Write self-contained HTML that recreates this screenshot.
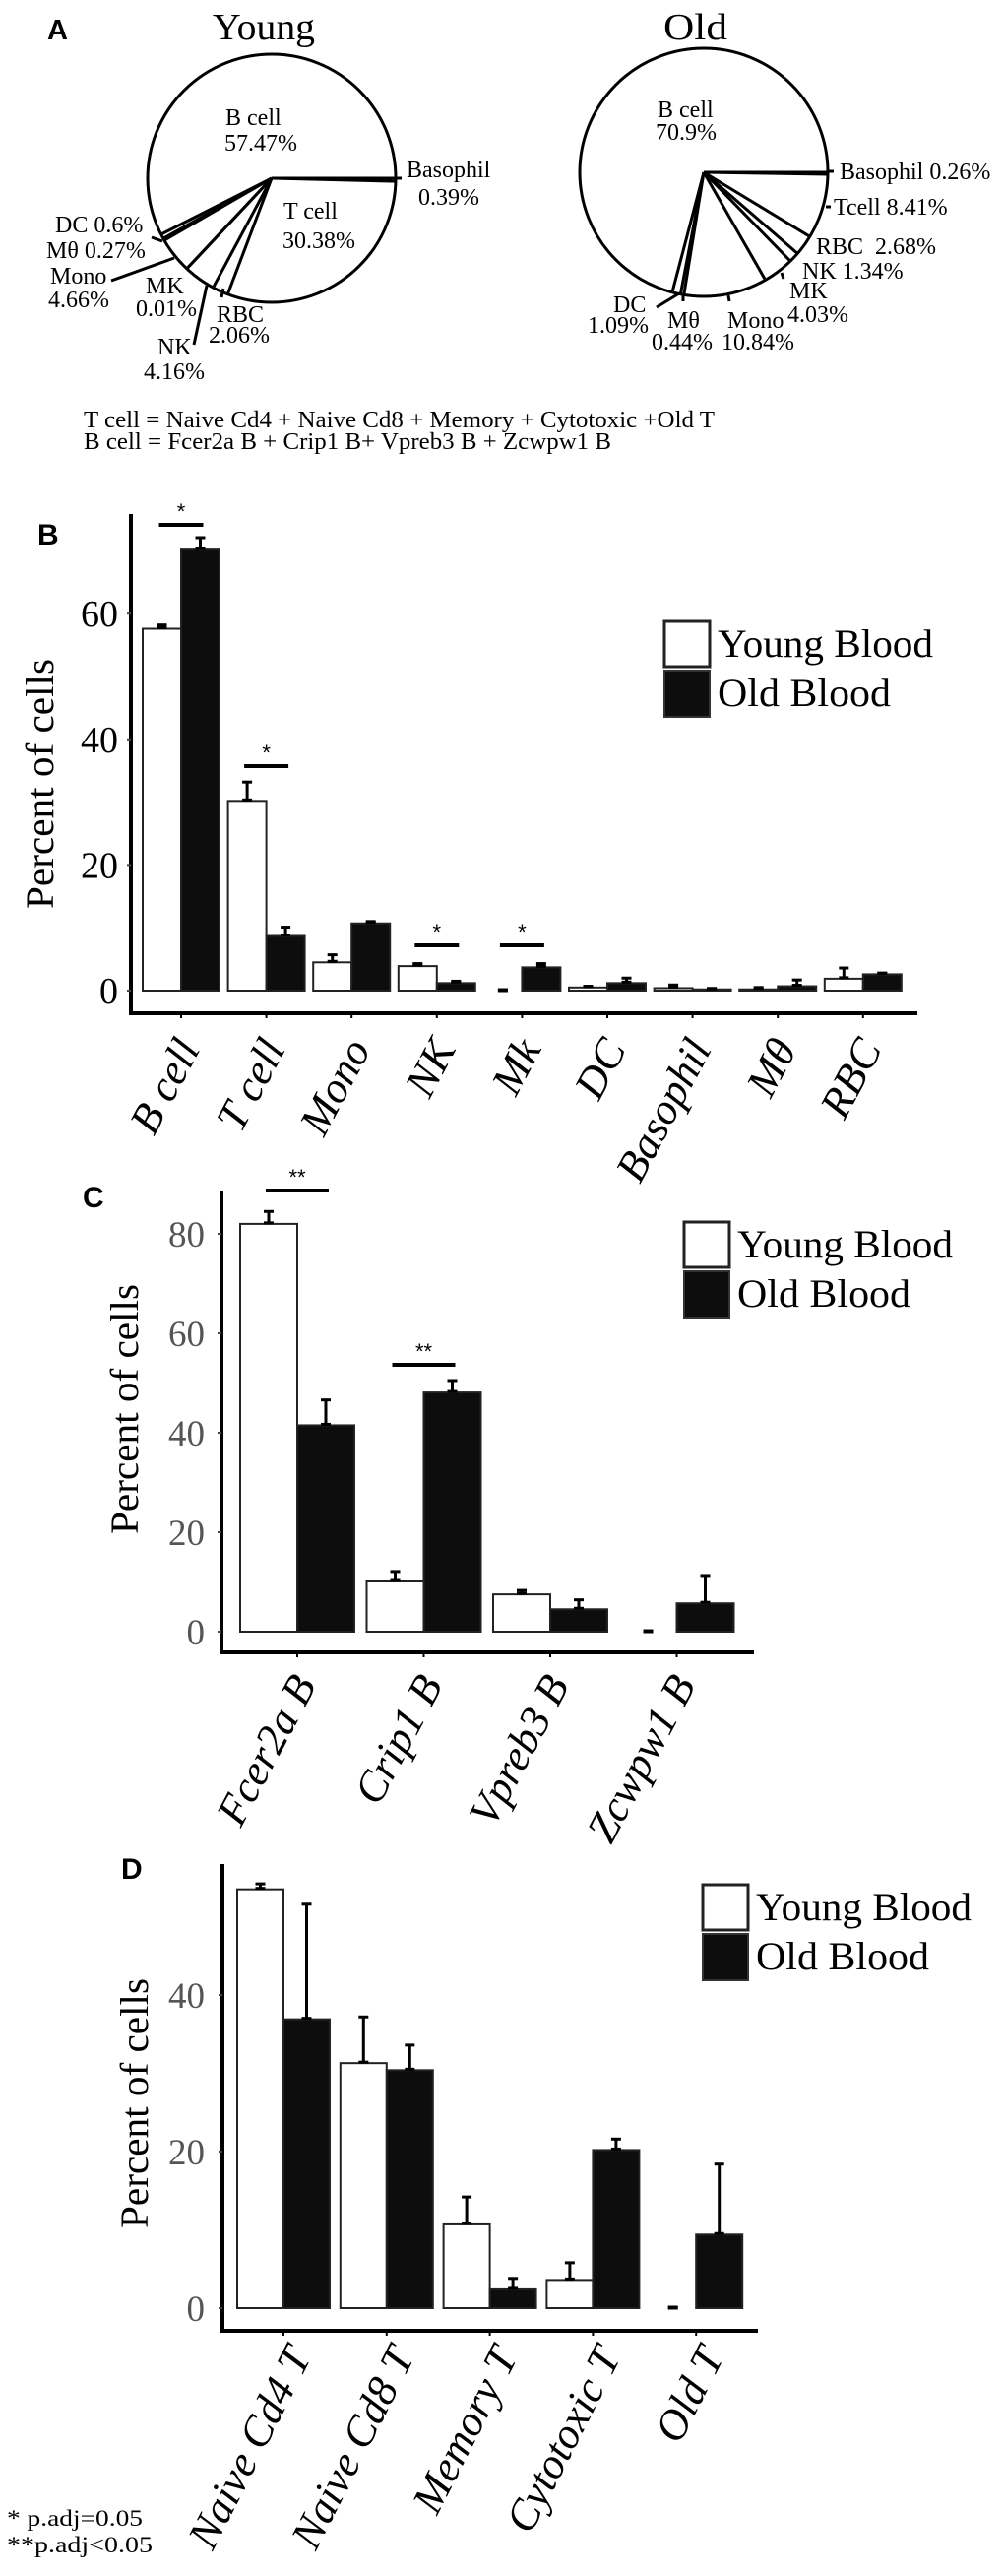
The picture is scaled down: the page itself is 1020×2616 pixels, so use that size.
<!DOCTYPE html>
<html><head><meta charset="utf-8"><style>
html,body{margin:0;padding:0;background:#fff;}
svg{display:block;}
.serif{font-family:"Liberation Serif",serif;}
.sans{font-family:"Liberation Sans",sans-serif;}
</style></head><body>
<svg id="fig" width="1020" height="2616" viewBox="0 0 1020 2616" xmlns="http://www.w3.org/2000/svg">
<rect x="0" y="0" width="1020" height="2616" fill="#fff"/>
<g id="panelA">
  <g id="pieLayer"></g>
  <text class="sans" x="48" y="40" font-size="29" font-weight="bold">A</text>
  <text class="serif" x="216" y="40" font-size="38" textLength="104" lengthAdjust="spacingAndGlyphs">Young</text>
  <text class="serif" x="674" y="40" font-size="38" textLength="65" lengthAdjust="spacingAndGlyphs">Old</text>
  <g class="serif" font-size="24">
    <text x="229" y="127">B cell</text>
    <text x="228" y="153">57.47%</text>
    <text x="413" y="180">Basophil</text>
    <text x="425" y="208">0.39%</text>
    <text x="288" y="222">T cell</text>
    <text x="287" y="252">30.38%</text>
    <text x="56" y="236">DC 0.6%</text>
    <text x="47" y="262">Mθ 0.27%</text>
    <text x="51" y="288">Mono</text>
    <text x="49" y="312">4.66%</text>
    <text x="148" y="298">MK</text>
    <text x="138" y="321">0.01%</text>
    <text x="220" y="327">RBC</text>
    <text x="212" y="348">2.06%</text>
    <text x="160" y="360">NK</text>
    <text x="146" y="385">4.16%</text>
  </g>
  <g stroke="#000" stroke-width="3">
    <line x1="113" y1="285" x2="177" y2="262"/>
    <line x1="197" y1="350" x2="210" y2="290"/>
    <line x1="225" y1="302" x2="227" y2="293"/>
    <line x1="154" y1="241" x2="165" y2="245"/>
    <line x1="402" y1="181" x2="408" y2="181"/>
  </g>
  <g class="serif" font-size="24">
    <text x="668" y="119">B cell</text>
    <text x="666" y="142">70.9%</text>
    <text x="853" y="182">Basophil 0.26%</text>
    <text x="847" y="218">Tcell 8.41%</text>
    <text x="829" y="258" xml:space="preserve">RBC  2.68%</text>
    <text x="815" y="283">NK 1.34%</text>
    <text x="802" y="303">MK</text>
    <text x="800" y="327">4.03%</text>
    <text x="739" y="333">Mono</text>
    <text x="733" y="355">10.84%</text>
    <text x="678" y="333">Mθ</text>
    <text x="662" y="355">0.44%</text>
    <text x="623" y="317">DC</text>
    <text x="597" y="338">1.09%</text>
  </g>
  <g stroke="#000" stroke-width="3">
    <line x1="841" y1="174" x2="847" y2="174"/>
    <line x1="839" y1="210" x2="844" y2="210"/>
    <line x1="667" y1="312" x2="690" y2="298"/>
    <line x1="694" y1="300" x2="694" y2="306"/>
    <line x1="740" y1="300" x2="741" y2="306"/>
    <line x1="794" y1="277" x2="796" y2="283"/>
  </g>
  <text class="serif" x="85" y="434" font-size="24" textLength="641" lengthAdjust="spacingAndGlyphs">T cell = Naive Cd4 + Naive Cd8 + Memory + Cytotoxic +Old T</text>
  <text class="serif" x="85" y="456" font-size="24" textLength="536" lengthAdjust="spacingAndGlyphs">B cell = Fcer2a B + Crip1 B+ Vpreb3 B + Zcwpw1 B</text>
</g>
<text class="serif" x="7" y="2565" font-size="23" textLength="138" lengthAdjust="spacingAndGlyphs">* p.adj=0.05</text>
<text class="serif" x="7" y="2592" font-size="23" textLength="148" lengthAdjust="spacingAndGlyphs">**p.adj&lt;0.05</text>
</svg>
<script>
// ---------- Pie data ----------
const pieSlices = ["B cell","DC","Mθ","Mono","MK","NK","RBC","T cell","Basophil"];
const youngPiePct = [57.47,0.6,0.27,4.66,0.01,4.16,2.06,30.38,0.39];
const oldPiePct = [70.9,1.09,0.44,10.84,4.03,1.34,2.68,8.41,0.26];

// ---------- Panel B data ----------
const catsB = ["B cell","T cell","Mono","NK","Mk","DC","Basophil","Mθ","RBC"];
const youngB = [57.6,30.2,4.5,3.9,0,0.5,0.4,0.2,1.9];
const youngErrB = [58.2,33.2,5.7,4.3,0,0.7,0.9,0.5,3.6];
const oldB = [70.2,8.7,10.7,1.2,3.7,1.2,0.2,0.7,2.6];
const oldErrB = [72.1,10.1,11.0,1.5,4.3,2.0,0.3,1.7,2.8];
const ticksB = [0,20,40,60];

// ---------- Panel C data ----------
const catsC = ["Fcer2a B","Crip1 B","Vpreb3 B","Zcwpw1 B"];
const youngC = [82.0,10.1,7.5,0];
const youngErrC = [84.5,12.1,8.3,0];
const oldC = [41.5,48.1,4.5,5.7];
const oldErrC = [46.6,50.5,6.4,11.3];
const ticksC = [0,20,40,60,80];

// ---------- Panel D data ----------
const catsD = ["Naive Cd4 T","Naive Cd8 T","Memory T","Cytotoxic T","Old T"];
const youngD = [53.5,31.3,10.7,3.6,0];
const youngErrD = [54.2,37.2,14.2,5.8,0];
const oldD = [36.9,30.4,2.4,20.2,9.4];
const oldErrD = [51.6,33.6,3.8,21.6,18.4];
const ticksD = [0,20,40];

const NS = "http://www.w3.org/2000/svg";
const svg = document.getElementById("fig");
const pieLayer = document.getElementById("pieLayer");
function mk(tag, attrs, parent){
  const e = document.createElementNS(NS, tag);
  for (const k in attrs) e.setAttribute(k, attrs[k]);
  (parent||svg).appendChild(e);
  return e;
}

function drawPie(values, cx, cy, r, name){
  const g = mk("g", {}, pieLayer);
  
  
  const c = mk("circle", {cx:cx, cy:cy, r:r, fill:"none", stroke:"#000", "stroke-width":3}, g);
  
  
  const total = values.reduce((a,b)=>a+b,0);
  let cum = 0;
  const bounds = [0];
  values.forEach(v => { cum += v; bounds.push(cum/total*360); });
  bounds.forEach((deg, i) => {
    if (i === bounds.length-1) return;
    const a = deg*Math.PI/180;
    const ln = mk("line", {x1:cx, y1:cy, x2:cx + r*Math.cos(a), y2:cy - r*Math.sin(a), stroke:"#000", "stroke-width":3}, g);
    
    
  });
}
drawPie(youngPiePct, 276, 181, 126, "young-pie");
drawPie(oldPiePct, 715, 175, 126, "old-pie");

function drawBars(cfg){
  const g = mk("g", {});
  
  
  const y = v => cfg.y0 - v*cfg.scale;
  const xTick = i => cfg.x0 + i*cfg.step;
  const L = mk("text", {x:cfg.letterX, y:cfg.letterY, "font-size":30, "font-weight":"bold", "class":"sans"}, g);
  L.textContent = cfg.letter;
  
  
  cfg.cats.forEach((c, i) => {
    const xt = xTick(i);
    const yb = mk("rect", {x:xt-cfg.bw, y:y(cfg.young[i]), width:cfg.bw, height:Math.max(0,cfg.y0-y(cfg.young[i])), fill:"#fff", stroke: cfg.young[i]>0?"#222":"#bfe0ee", "stroke-width":2}, g);
    
    
    const ob = mk("rect", {x:xt, y:y(cfg.old[i]), width:cfg.bw, height:cfg.y0-y(cfg.old[i]), fill:"#0d0d0d", stroke:"#222", "stroke-width":2}, g);
    
    
    [[xt-cfg.bw/2, cfg.young[i], cfg.youngErr[i]], [xt+cfg.bw/2, cfg.old[i], cfg.oldErr[i]]].forEach(([cx, v, e]) => {
      const eg = mk("g", {stroke:"#000", "stroke-width":3}, g);
      
      
      mk("line", {x1:cx, y1:y(v), x2:cx, y2:y(e)}, eg);
      mk("line", {x1:cx-5, y1:y(e), x2:cx+5, y2:y(e)}, eg);
      mk("line", {x1:cx-5, y1:y(v)-1, x2:cx+5, y2:y(v)-1}, eg);
    });
    const tk = mk("line", {x1:xt, y1:cfg.axisY, x2:xt, y2:cfg.axisY+5, stroke:"#000", "stroke-width":2}, g);
    
    
    const lx = xt + cfg.lblDx, ly = cfg.axisY + cfg.lblDy;
    const t = mk("text", {x:lx, y:ly, "font-size":cfg.lblSize, "font-style":"italic", "text-anchor":"end", "class":"serif", transform:`rotate(${cfg.rot} ${lx} ${ly})`}, g);
    t.textContent = c;
    
    
  });
  const ya = mk("line", {x1:cfg.axisX, y1:cfg.axisTop, x2:cfg.axisX, y2:cfg.axisY+2, stroke:"#000", "stroke-width":4}, g);
  
  
  const xa = mk("line", {x1:cfg.axisX-2, y1:cfg.axisY, x2:cfg.axisEnd, y2:cfg.axisY, stroke:"#000", "stroke-width":4}, g);
  
  
  cfg.ticks.forEach(v => {
    const t = mk("text", {x:cfg.tickLblX, y:y(v)+13, "font-size":cfg.tickSize, "text-anchor":"end", fill:cfg.tickColor, "class":"serif"}, g);
    t.textContent = v;
    
    
    const tm = mk("line", {x1:cfg.axisX-4, y1:y(v), x2:cfg.axisX, y2:y(v), stroke:"#444", "stroke-width":2}, g);
    
    
  });
  const yl = mk("text", {x:cfg.ylX, y:cfg.ylY, "font-size":40, "text-anchor":"middle", "class":"serif", transform:`rotate(-90 ${cfg.ylX} ${cfg.ylY})`, textLength:254, lengthAdjust:"spacingAndGlyphs"}, g);
  yl.textContent = "Percent of cells";
  
  
  const lg = mk("g", {}, g);
  
  
  const w1 = mk("rect", {x:cfg.legX, y:cfg.legY, width:46, height:46, fill:"#fff", stroke:"#222", "stroke-width":3}, lg);
  
  
  const b1 = mk("rect", {x:cfg.legX, y:cfg.legY+50, width:46, height:47, fill:"#0d0d0d", stroke:"#333", "stroke-width":2}, lg);
  
  
  const t1 = mk("text", {x:cfg.legX+54, y:cfg.legY+36, "font-size":40, "class":"serif", textLength:219, lengthAdjust:"spacingAndGlyphs"}, lg);
  t1.textContent = "Young Blood";
  
  
  const t2 = mk("text", {x:cfg.legX+54, y:cfg.legY+86, "font-size":40, "class":"serif", textLength:176, lengthAdjust:"spacingAndGlyphs"}, lg);
  t2.textContent = "Old Blood";
  
  
  cfg.sig.forEach(([i, yy, mark]) => {
    const xt = xTick(i);
    const sl = mk("line", {x1:xt-cfg.bw/2-3, y1:yy, x2:xt+cfg.bw/2+3, y2:yy, stroke:"#000", "stroke-width":4}, g);
    
    
    const st = mk("text", {x:xt, y:yy-6, "font-size":22, "text-anchor":"middle", "class":"sans"}, g);
    st.textContent = mark;
    
    
  });
}

drawBars({name:"panel-b", letter:"B", letterX:38, letterY:553, cats:catsB, young:youngB, youngErr:youngErrB, old:oldB, oldErr:oldErrB, ticks:ticksB,
  y0:1006, scale:6.38, x0:184, step:86.6, bw:39, axisX:133, axisTop:522, axisY:1029, axisEnd:932,
  tickLblX:120, tickSize:38, tickColor:"#000", ylX:54, ylY:796, lblDx:20, lblDy:36, lblSize:44, rot:-62,
  legX:675, legY:631, sig:[[0,533,"*"],[1,778,"*"],[3,960,"*"],[4,960,"*"]]});

drawBars({name:"panel-c", letter:"C", letterX:84, letterY:1226, cats:catsC, young:youngC, youngErr:youngErrC, old:oldC, oldErr:oldErrC, ticks:ticksC,
  y0:1657, scale:5.05, x0:302, step:128.5, bw:58, axisX:225, axisTop:1209, axisY:1678, axisEnd:766,
  tickLblX:208, tickSize:37, tickColor:"#555", ylX:140, ylY:1431, lblDx:20, lblDy:33, lblSize:44, rot:-62,
  legX:695, legY:1241, sig:[[0,1209,"**"],[1,1386,"**"]]});

drawBars({name:"panel-d", letter:"D", letterX:123, letterY:1908, cats:catsD, young:youngD, youngErr:youngErrD, old:oldD, oldErr:oldErrD, ticks:ticksD,
  y0:2344, scale:7.95, x0:288, step:104.8, bw:47, axisX:226, axisTop:1893, axisY:2367, axisEnd:770,
  tickLblX:208, tickSize:37, tickColor:"#555", ylX:150, ylY:2136, lblDx:29, lblDy:26, lblSize:44, rot:-63,
  legX:714, legY:1914, sig:[]});
</script>
</body></html>
